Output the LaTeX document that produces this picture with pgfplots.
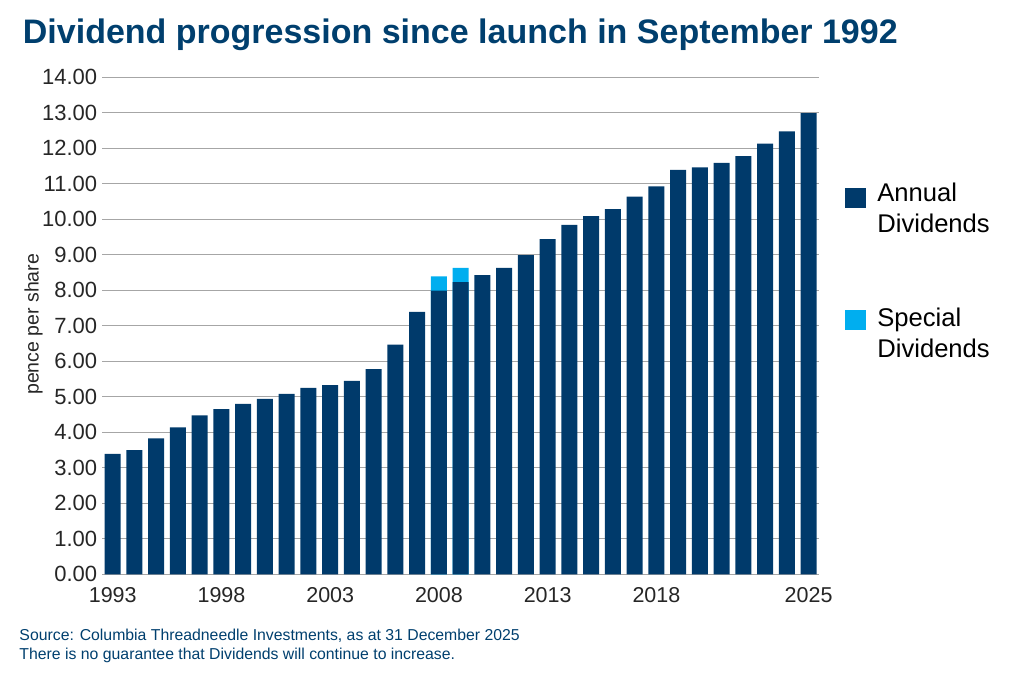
\documentclass[border=0pt]{standalone}
\usepackage{pgfplots}
\pgfplotsset{compat=1.18}
\usepackage{fontspec}
\setmainfont{Liberation Sans}

\definecolor{navy}{HTML}{003A6B}
\definecolor{special}{HTML}{00AEEF}
\definecolor{gridgray}{HTML}{A6A6A6}
\definecolor{titleblue}{HTML}{003F6E}
\definecolor{tickgray}{HTML}{262626}

\begin{document}
\begin{tikzpicture}
\path[use as bounding box] (0pt,0pt) rectangle (1024pt,673pt);

\begin{axis}[
  at={(102.3pt,98.7pt)}, anchor=south west,
  scale only axis, width=717pt, height=497pt,
  xmin=-0.48, xmax=32.49, ymin=0, ymax=14,
  ybar, bar width=16pt, bar shift=0pt,
  axis line style={draw=none},
  tick style={draw=none}, major tick length=0pt,
  ymajorgrids, grid style={gridgray, line width=1.3pt},
  ytick={0,1,...,14},
  xtick={0,5,10,15,20,25,32},
  xticklabels={1993,1998,2003,2008,2013,2018,2025},
  /pgf/number format/assume math mode=true,
  yticklabel style={/pgf/number format/fixed, /pgf/number format/fixed zerofill,
    /pgf/number format/precision=2, font=\fontsize{22}{26}\selectfont},
  every tick label/.append style={inner sep=0pt, text=tickgray},
  xticklabel style={font=\fontsize{21.5}{26}\selectfont},
  xticklabel shift=13pt, yticklabel shift=5pt,
  ylabel={pence per share},
  ylabel style={at={(axis description cs:-0.0958,0.503)}, anchor=center,
    font=\fontsize{19.5}{22}\selectfont, text=tickgray},
  legend cell align=left,
  legend style={draw=none, fill=none, at={(axis description cs:1.0358,0.790)},
    anchor=north west, inner sep=0pt, outer sep=0pt, row sep=0pt, column sep=12pt,
    font=\fontsize{25.6}{30}\selectfont,
    nodes={inner sep=0pt, text height=20pt, text depth=11.1pt}},
]
% special dividends drawn as totals, annual bars on top
\addplot[forget plot, fill=special, draw=none] coordinates {
  (15,8.39) (16,8.63)
};
\addplot[forget plot, fill=navy, draw=none] coordinates {
  (0,3.39) (1,3.50) (2,3.83) (3,4.14) (4,4.48) (5,4.65) (6,4.80) (7,4.94)
  (8,5.08) (9,5.25) (10,5.33) (11,5.45) (12,5.78) (13,6.47) (14,7.39)
  (15,7.99) (16,8.23) (17,8.43) (18,8.63) (19,8.99) (20,9.44) (21,9.84)
  (22,10.09) (23,10.29) (24,10.64) (25,10.93) (26,11.39) (27,11.46)
  (28,11.59) (29,11.78) (30,12.13) (31,12.48) (32,12.99)
};
\addlegendimage{legend image code/.code={\fill[navy] (0pt,-9.5pt) rectangle (20pt,9.5pt);}}
\addlegendentry{Annual}
\addlegendimage{empty legend}
\addlegendentry{Dividends}
\addlegendimage{empty legend}
\addlegendentry{\mbox{}}
\addlegendimage{empty legend}
\addlegendentry{\mbox{}}
\addlegendimage{legend image code/.code={\fill[special] (0pt,-8pt) rectangle (20pt,11pt);}}
\addlegendentry{Special}
\addlegendimage{empty legend}
\addlegendentry{Dividends}
\end{axis}

\node[anchor=base west, inner sep=0pt, text=titleblue,
  font=\fontsize{34}{38}\selectfont\bfseries] at (22.7pt,629.7pt)
  {Dividend progression since launch in September 1992};
\node[anchor=base west, inner sep=0pt, text=titleblue,
  font=\fontsize{15.8}{18}\selectfont] at (19.3pt,33pt)
  {Source: Columbia Threadneedle Investments, as at 31 December 2025};
\node[anchor=base west, inner sep=0pt, text=titleblue,
  font=\fontsize{15.8}{18}\selectfont] at (19.3pt,14pt)
  {There is no guarantee that Dividends will continue to increase.};
\end{tikzpicture}
\end{document}
